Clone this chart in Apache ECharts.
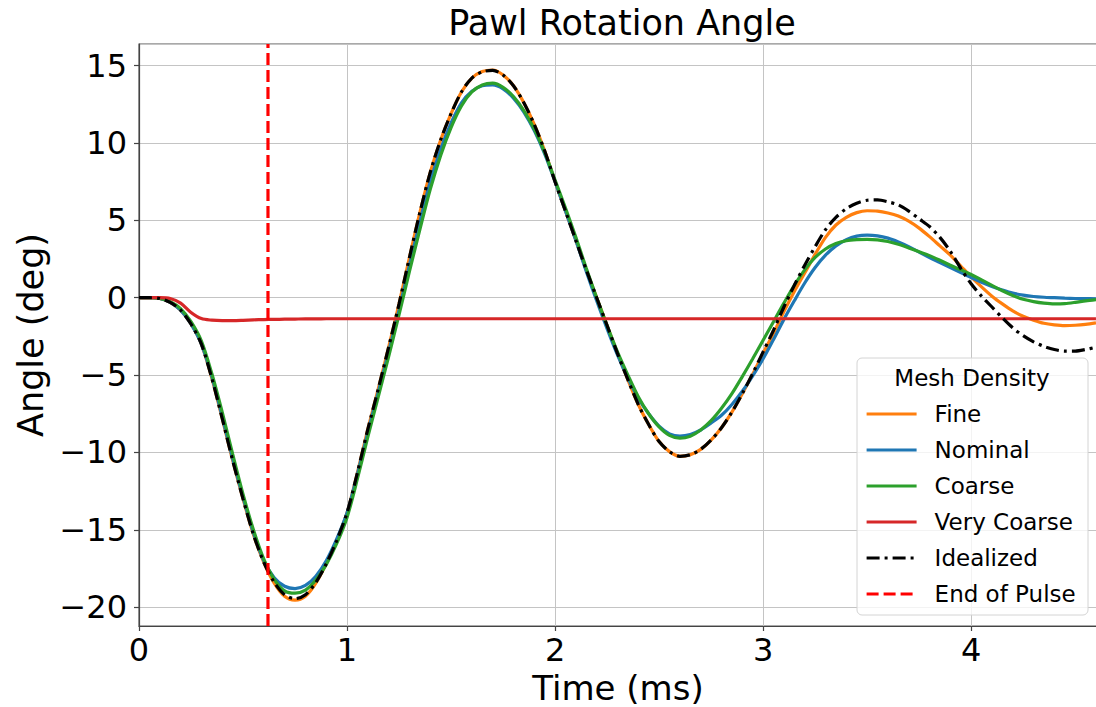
<!DOCTYPE html>
<html>
<head>
<meta charset="utf-8">
<title>Pawl Rotation Angle</title>
<script src="https://cdn.jsdelivr.net/npm/echarts@6/dist/echarts.min.js"></script>
<style>
  html, body { margin: 0; padding: 0; background: #ffffff; }
  #chart { width: 1096px; height: 707px; }
</style>
</head>
<body>
<div id="chart"></div>
<script>
// Sample times (ms)
const time = [
  0.00, 0.05, 0.10, 0.15, 0.20, 0.25, 0.30, 0.35, 0.40, 0.45,
  0.50, 0.55, 0.60, 0.65, 0.70, 0.75, 0.80, 0.85, 0.90, 0.95,
  1.00, 1.05, 1.10, 1.15, 1.20, 1.25, 1.30, 1.35, 1.40, 1.45,
  1.50, 1.55, 1.60, 1.65, 1.70, 1.75, 1.80, 1.85, 1.90, 1.95,
  2.00, 2.05, 2.10, 2.15, 2.20, 2.25, 2.30, 2.35, 2.40, 2.45,
  2.50, 2.55, 2.60, 2.65, 2.70, 2.75, 2.80, 2.85, 2.90, 2.95,
  3.00, 3.05, 3.10, 3.15, 3.20, 3.25, 3.30, 3.35, 3.40, 3.45,
  3.50, 3.55, 3.60, 3.65, 3.70, 3.75, 3.80, 3.85, 3.90, 3.95,
  4.00, 4.05, 4.10, 4.15, 4.20, 4.25, 4.30, 4.35, 4.40, 4.45,
  4.50, 4.55, 4.60
];

// Pawl angle (deg) for each mesh density
const fine = [
  0, 0, -0.05, -0.3, -0.8, -1.7, -3.0, -5.2, -7.8, -10.5,
  -13.0, -15.3, -17.1, -18.45, -19.3, -19.55, -19.3, -18.45, -17.2, -15.7,
  -13.9, -11.3, -8.5, -5.9, -3.2, -0.4, 2.6, 5.5, 8.1, 10.2,
  11.9, 13.3, 14.2, 14.62, 14.72, 14.4, 13.7, 12.6, 11.2, 9.5,
  7.5, 5.6, 3.7, 1.8, 0.0, -1.8, -3.6, -5.3, -6.9, -8.2,
  -9.3, -9.95, -10.25, -10.15, -9.8, -9.2, -8.4, -7.4, -6.2, -4.95,
  -3.6, -2.3, -0.9, 0.4, 1.6, 2.8, 3.9, 4.7, 5.2, 5.5,
  5.62, 5.6, 5.48, 5.28, 4.95, 4.5, 3.95, 3.35, 2.75, 2.05,
  1.35, 0.7, 0.1, -0.4, -0.85, -1.2, -1.45, -1.65, -1.75, -1.8,
  -1.78, -1.72, -1.62
];

const nominal = [
  0, 0, -0.05, -0.3, -0.8, -1.7, -3.0, -5.1, -7.7, -10.4,
  -12.9, -15.2, -17.0, -18.1, -18.65, -18.8, -18.6, -18.0, -17.0, -15.6,
  -13.9, -11.4, -8.7, -6.1, -3.5, -0.8, 2.1, 4.9, 7.5, 9.6,
  11.3, 12.6, 13.35, 13.7, 13.75, 13.5, 12.9, 12.0, 10.8, 9.3,
  7.5, 5.6, 3.7, 1.7, -0.2, -2.0, -3.7, -5.2, -6.5, -7.5,
  -8.3, -8.8, -8.95, -8.85, -8.55, -8.1, -7.6, -6.9, -6.05, -5.05,
  -3.95, -2.7, -1.4, -0.2, 0.95, 1.95, 2.75, 3.35, 3.75, 3.98,
  4.05, 4.0, 3.85, 3.6, 3.3, 2.95, 2.6, 2.28, 1.95, 1.62,
  1.3, 1.0, 0.73, 0.5, 0.3, 0.17, 0.08, 0.03, 0.0, -0.03,
  -0.05, -0.06, -0.07
];

const coarse = [
  0, 0, -0.05, -0.25, -0.7, -1.55, -2.8, -4.9, -7.4, -10.1,
  -12.7, -15.0, -16.9, -18.2, -18.95, -19.1, -18.9, -18.25, -17.25, -15.9,
  -14.2, -11.7, -9.0, -6.4, -3.8, -1.1, 1.7, 4.4, 7.0, 9.2,
  11.0, 12.4, 13.3, 13.75, 13.87, 13.6, 13.0, 12.1, 10.9, 9.4,
  7.6, 5.8, 3.9, 1.9, 0.0, -1.8, -3.5, -5.0, -6.4, -7.5,
  -8.35, -8.9, -9.08, -8.95, -8.55, -7.95, -7.15, -6.2, -5.1, -3.95,
  -2.75, -1.55, -0.35, 0.8, 1.8, 2.6, 3.15, 3.5, 3.68, 3.75,
  3.77, 3.74, 3.63, 3.45, 3.22, 2.97, 2.72, 2.42, 2.1, 1.8,
  1.5, 1.15, 0.8, 0.45, 0.15, -0.1, -0.25, -0.35, -0.4, -0.38,
  -0.3, -0.2, -0.12
];

const veryCoarse = [
  0, 0, 0, -0.05, -0.35, -0.95, -1.35, -1.45, -1.48, -1.48,
  -1.46, -1.43, -1.41, -1.4, -1.39, -1.38, -1.37, -1.37, -1.36, -1.36,
  -1.36, -1.36, -1.36, -1.36, -1.36, -1.36, -1.36, -1.36, -1.36, -1.36,
  -1.36, -1.36, -1.36, -1.36, -1.36, -1.36, -1.36, -1.36, -1.36, -1.36,
  -1.36, -1.36, -1.36, -1.36, -1.36, -1.36, -1.36, -1.36, -1.36, -1.36,
  -1.36, -1.36, -1.36, -1.36, -1.36, -1.36, -1.36, -1.36, -1.36, -1.36,
  -1.36, -1.36, -1.36, -1.36, -1.36, -1.36, -1.36, -1.36, -1.36, -1.36,
  -1.36, -1.36, -1.36, -1.36, -1.36, -1.36, -1.36, -1.36, -1.36, -1.36,
  -1.36, -1.36, -1.36, -1.36, -1.36, -1.36, -1.36, -1.36, -1.36, -1.36,
  -1.36, -1.36, -1.36
];

const idealized = [
  0, 0, -0.05, -0.3, -0.8, -1.7, -3.0, -5.2, -7.8, -10.5,
  -13.0, -15.3, -17.1, -18.4, -19.2, -19.45, -19.2, -18.4, -17.2, -15.7,
  -13.9, -11.3, -8.5, -5.9, -3.2, -0.4, 2.6, 5.5, 8.1, 10.2,
  11.9, 13.3, 14.2, 14.6, 14.7, 14.4, 13.7, 12.6, 11.2, 9.5,
  7.5, 5.6, 3.7, 1.8, 0.0, -1.8, -3.6, -5.3, -6.9, -8.2,
  -9.3, -9.95, -10.25, -10.15, -9.8, -9.2, -8.4, -7.4, -6.2, -4.9,
  -3.5, -2.1, -0.6, 0.8, 2.1, 3.3, 4.4, 5.2, 5.75, 6.1,
  6.3, 6.32, 6.2, 6.0, 5.6, 5.1, 4.6, 3.9, 3.0, 1.9,
  0.9, 0.1, -0.6, -1.3, -1.95, -2.45, -2.85, -3.15, -3.35, -3.45,
  -3.45, -3.35, -3.2
];

// End of the applied pulse (ms)
const pulseEnd = 0.62;

// Axis extents
const xMin = 0, xMax = 4.605;
const yMin = -21.22, yMax = 16.4;

const FONT = '"DejaVu Sans", "Liberation Sans", sans-serif';
const minus = v => (v < 0 ? '\u2212' + Math.abs(v) : String(v));
const pairs = vals => time.map((t, i) => [t, vals[i]]);

const chart = echarts.init(document.getElementById('chart'), null, { renderer: 'svg' });

const LW = 3.2;

const lineSeries = (name, vals, color, extra) => Object.assign({
  name: name,
  type: 'line',
  data: pairs(vals),
  symbol: 'none',
  smooth: 0.3,
  lineStyle: { color: color, width: LW },
  itemStyle: { color: color },
  emphasis: { disabled: true }
}, extra || {});

chart.setOption({
  animation: false,
  backgroundColor: '#ffffff',
  title: {
    text: 'Pawl Rotation Angle',
    left: 617,
    textAlign: 'center',
    top: 0,
    textStyle: { fontFamily: FONT, fontSize: 35, fontWeight: 'normal', color: '#000' }
  },
  grid: {
    left: 139, right: -1, top: 44, bottom: 81,
    outerBoundsMode: 'none',
    containLabel: false,
    show: true, borderColor: '#555', borderWidth: 1.2, backgroundColor: 'transparent'
  },
  legend: {
    orient: 'vertical',
    left: 860,
    top: 396,
    itemWidth: 50,
    itemHeight: 14,
    itemGap: 10,
    selectedMode: false,
    itemStyle: { opacity: 0 },
    lineStyle: { width: LW },
    textStyle: { fontFamily: FONT, fontSize: 23, color: '#000', lineHeight: 26, padding: [0, 0, 0, 13] },
    data: ['Fine', 'Nominal', 'Coarse', 'Very Coarse', 'Idealized', 'End of Pulse']
  },
  graphic: [
    {
      type: 'rect',
      z: 3,
      shape: { x: 857, y: 358, width: 231, height: 257, r: 5 },
      style: { fill: 'rgba(255,255,255,0.8)', stroke: '#d4d4d4', lineWidth: 1 }
    },
    {
      type: 'text',
      z: 5,
      style: {
        text: 'Mesh Density',
        x: 972, y: 378,
        textAlign: 'center', textVerticalAlign: 'middle',
        font: '23px ' + FONT, fill: '#000'
      }
    }
  ],
  xAxis: {
    type: 'value',
    min: xMin, max: xMax, interval: 1,
    name: 'Time (ms)',
    nameLocation: 'middle',
    nameGap: 35,
    nameTextStyle: { fontFamily: FONT, fontSize: 34, lineHeight: 34, color: '#000' },
    axisLine: { show: true, onZero: false, lineStyle: { color: '#444', width: 1.2 } },
    axisTick: { show: true, length: 5, lineStyle: { color: '#444', width: 1.2 } },
    axisLabel: {
      fontFamily: FONT, fontSize: 32, color: '#000', margin: 8,
      showMaxLabel: false, formatter: minus
    },
    splitLine: { show: true, lineStyle: { color: '#c4c4c4', width: 1 } }
  },
  yAxis: {
    type: 'value',
    min: yMin, max: yMax, splitNumber: 8,
    name: 'Angle (deg)',
    nameLocation: 'middle',
    nameGap: 89,
    nameRotate: 90,
    nameTextStyle: { fontFamily: FONT, fontSize: 35, color: '#000' },
    axisLine: { show: true, onZero: false, lineStyle: { color: '#444', width: 1.2 } },
    axisTick: { show: true, length: 5, lineStyle: { color: '#444', width: 1.2 } },
    axisLabel: {
      fontFamily: FONT, fontSize: 32, color: '#000', margin: 12,
      showMinLabel: false, showMaxLabel: false, formatter: minus
    },
    splitLine: { show: true, lineStyle: { color: '#c4c4c4', width: 1 } }
  },
  series: [
    lineSeries('Fine', fine, '#ff7f0e'),
    lineSeries('Nominal', nominal, '#1f77b4'),
    lineSeries('Coarse', coarse, '#2ca02c'),
    lineSeries('Very Coarse', veryCoarse, '#d62728'),
    lineSeries('Idealized', idealized, '#000000', {
      lineStyle: { color: '#000000', width: LW, type: [13, 5, 3, 5] }
    }),
    {
      name: 'End of Pulse',
      type: 'line',
      data: [[pulseEnd, yMin], [pulseEnd, yMax]],
      symbol: 'none',
      lineStyle: { color: '#ff0000', width: LW, type: [12, 5] },
      itemStyle: { color: '#ff0000' },
      emphasis: { disabled: true }
    }
  ]
});
</script>
</body>
</html>
